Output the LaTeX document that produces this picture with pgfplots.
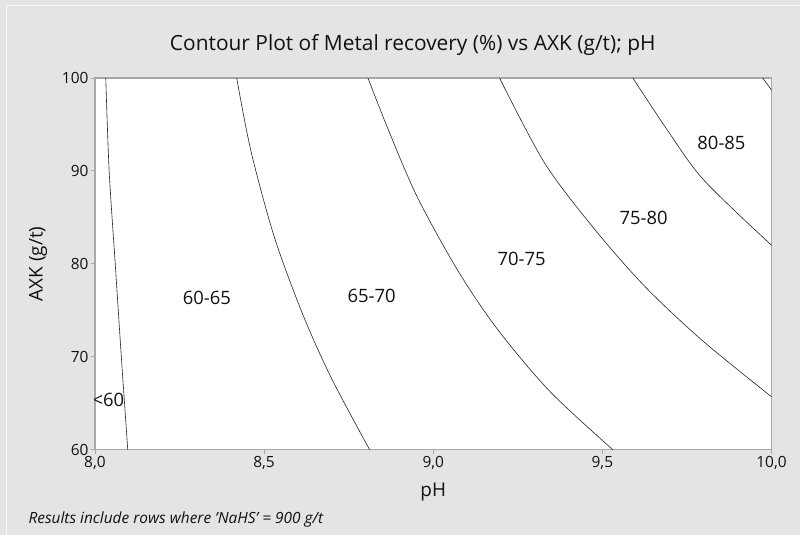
\documentclass[border=0pt]{standalone}
\usepackage{pgfplots}
\pgfplotsset{compat=1.18}
\usepackage{fontspec}
\setmainfont{Open Sans}
\definecolor{bggray}{HTML}{E4E4E4}
\definecolor{axgray}{HTML}{A8A8A8}
\definecolor{txt}{HTML}{111111}
\begin{document}
\begin{tikzpicture}
\fill[bggray] (0bp,0bp) rectangle (800bp,535bp);
\draw[white!70!bggray,line width=1bp] (7bp,0bp) -- (7bp,529bp) -- (800bp,529bp);
\node[font=\fontsize{21}{25}\selectfont,text=txt] at (413bp,490bp) {Contour Plot of Metal recovery (\%) vs AXK (g/t); pH};
\node[font=\fontsize{15.5}{18}\selectfont\itshape,text=txt,anchor=west] at (25bp,15bp) {Results include rows where 'NaHS' = 900 g/t};
\begin{axis}[
  at={(95bp,85bp)}, anchor=south west,
  scale only axis, width=677bp, height=372bp,
  xmin=8, xmax=10, ymin=60, ymax=100,
  xtick={8,8.5,9,9.5,10},
  xticklabels={{8,0},{8,5},{9,0},{9,5},{10,0}},
  ytick={60,70,80,90,100},
  yticklabels={60,70,80,90,100},
  axis background/.style={fill=white},
  axis line style={axgray,line width=1.5bp},
  tick style={axgray,line width=0.8bp},
  tick align=outside, major tick length=4bp,
  xtick pos=bottom, ytick pos=left,
  ticklabel style={font=\fontsize{15.5}{18}\selectfont,text=txt},
  xticklabel style={yshift=1bp},
  yticklabel style={xshift=1bp},
  xlabel={pH}, ylabel={AXK (g/t)},
  label style={font=\fontsize{19}{22}\selectfont,text=txt},
  xlabel style={yshift=-7bp},
  ylabel style={yshift=8bp},
  clip=true,
]
\addplot[black!85,line width=0.6bp,smooth] coordinates {
 (8.032,100) (8.042,90) (8.060,80) (8.078,70) (8.097,60)};
\addplot[black!85,line width=0.6bp,smooth] coordinates {
 (8.419,100) (8.462,92.0) (8.531,82.8) (8.615,74.5) (8.699,67.7) (8.812,60)};
\addplot[black!85,line width=0.6bp,smooth] coordinates {
 (8.807,100) (8.862,94.9) (8.950,87.4) (9.069,79.5) (9.187,73.1) (9.344,66.3) (9.531,60)};
\addplot[black!85,line width=0.6bp,smooth] coordinates {
 (9.196,100) (9.330,90.8) (9.482,83.5) (9.630,77.4) (9.797,71.7) (10.0,65.7)};
\addplot[black!85,line width=0.6bp,smooth] coordinates {
 (9.590,100) (9.690,94.5) (9.800,89.0) (10.0,82.0)};
\addplot[black!85,line width=0.6bp] coordinates {
 (9.974,100) (10.0,98.7)};
\node[font=\fontsize{18.5}{22}\selectfont,text=txt] at (axis cs:8.331,76.3) {60-65};
\node[font=\fontsize{18.5}{22}\selectfont,text=txt] at (axis cs:8.818,76.6) {65-70};
\node[font=\fontsize{18.5}{22}\selectfont,text=txt] at (axis cs:9.261,80.5) {70-75};
\node[font=\fontsize{18.5}{22}\selectfont,text=txt] at (axis cs:9.622,84.9) {75-80};
\node[font=\fontsize{18.5}{22}\selectfont,text=txt] at (axis cs:9.852,93.0) {80-85};
\node[font=\fontsize{18.5}{22}\selectfont,text=txt] at (axis cs:8.040,65.4) {<60};
\end{axis}
\end{tikzpicture}
\end{document}
